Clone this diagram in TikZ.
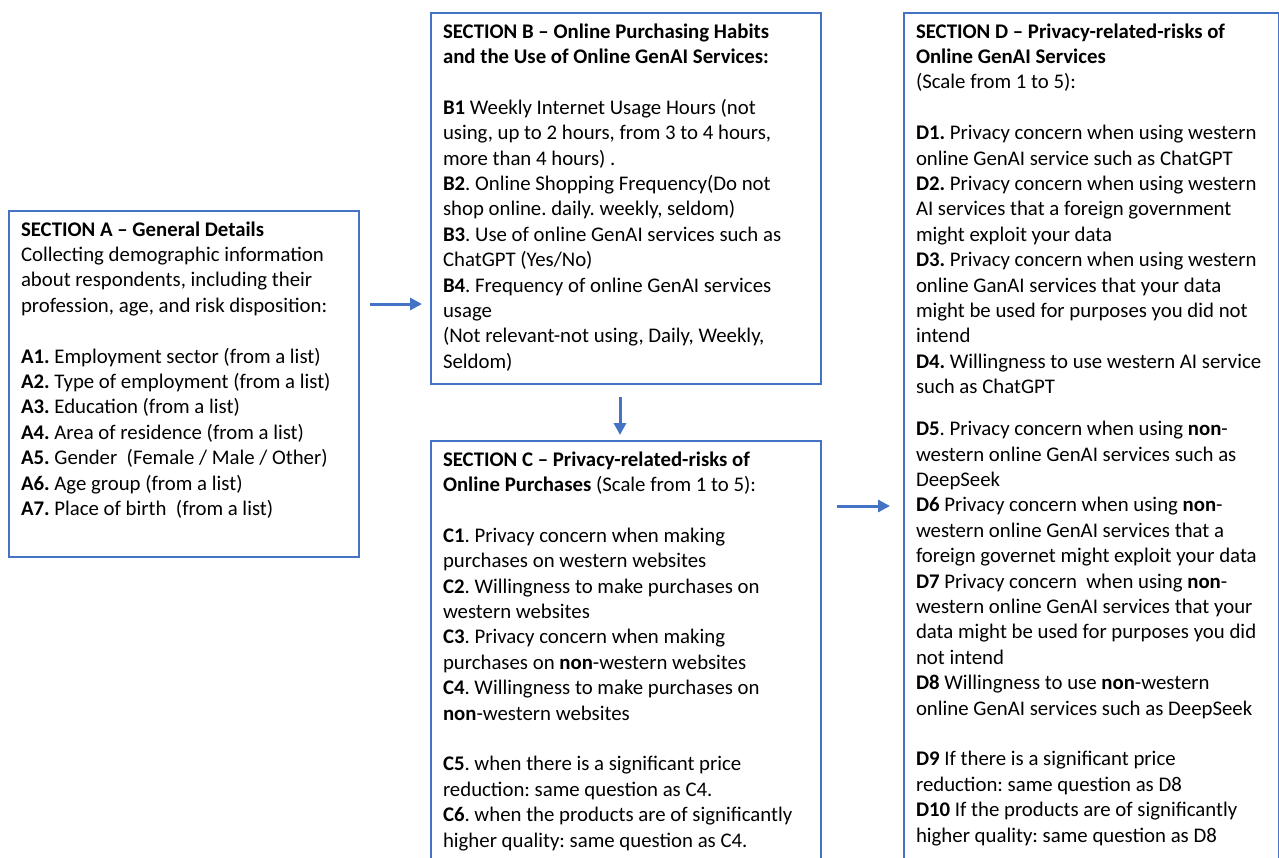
\documentclass[tikz,border=0pt]{standalone}
\usepackage{fontspec}
\setmainfont{Carlito}
\usetikzlibrary{arrows.meta}

\definecolor{boxblue}{HTML}{4472C4}
\frenchspacing

\begin{document}
\begin{tikzpicture}
		[
		x=0.5pt, y=-0.5pt, font=\fontsize{10.4pt}{12.7pt}\selectfont, >={Triangle[length=6pt,width=6pt]},
		%Rahmen der Abschnitte
		secbox/.style={draw=boxblue, line width=1pt, inner xsep=6pt, inner ysep=0pt, anchor=north west},
		%Pfeile
		arr/.style={->, boxblue, line width=1.5pt}
		]
		
		%Bildausschnitt
		\useasboundingbox (0,0) rectangle (1279,857);
		\clip (0,0) rectangle (1279,857);
		
		%Abschnitt A
		\node[secbox] (secA) at (8,210) {\parbox[c][173pt][t]{163pt}{\raggedright\rule{0pt}{12.5pt}%
			\textbf{SECTION A -- General Details}\\
			Collecting demographic information\\
			about respondents, including their\\
			profession, age, and risk disposition:\\[12.7pt]
			\textbf{A1.} Employment sector (from a list)\\
			\textbf{A2.} Type of employment (from a list)\\
			\textbf{A3.} Education (from a list)\\
			\textbf{A4.} Area of residence (from a list)\\
			\textbf{A5.} Gender~ (Female / Male / Other)\\
			\textbf{A6.} Age group (from a list)\\
			\textbf{A7.} Place of birth~ (from a list)}};
		
		%Abschnitt B
		\node[secbox] (secB) at (430,12) {\parbox[c][185.5pt][t]{183pt}{\raggedright\rule{0pt}{12.5pt}%
			\textbf{SECTION B -- Online Purchasing Habits}\\
			\textbf{and the Use of Online GenAI Services:}\\[12.7pt]
			\textbf{B1} Weekly Internet Usage Hours (not\\
			using, up to 2 hours, from 3 to 4 hours,\\
			more than 4 hours) .\\
			\textbf{B2}. Online Shopping Frequency(Do not\\
			shop online. daily. weekly, seldom)\\
			\textbf{B3}. Use of online GenAI services such as\\
			ChatGPT (Yes/No)\\
			\textbf{B4}. Frequency of online GenAI services\\
			usage\\
			(Not relevant-not using, Daily, Weekly,\\
			Seldom)}};
		
		%Abschnitt C
		\node[secbox] (secC) at (430,440) {\parbox[c][215pt][t]{183pt}{\raggedright\rule{0pt}{12.5pt}%
			\textbf{SECTION C -- Privacy-related-risks of}\\
			\textbf{Online Purchases} (Scale from 1 to 5):\\[12.7pt]
			\textbf{C1}. Privacy concern when making\\
			purchases on western websites\\
			\textbf{C2}. Willingness to make purchases on\\
			western websites\\
			\textbf{C3}. Privacy concern when making\\
			purchases on \textbf{non}-western websites\\
			\textbf{C4}. Willingness to make purchases on\\
			\textbf{non}-western websites\\[12.7pt]
			\textbf{C5}. when there is a significant price\\
			reduction: same question as C4.\\
			\textbf{C6}. when the products are of significantly\\
			higher quality: same question as C4.}};
		
		%Abschnitt D
		\node[secbox] (secD) at (903,12) {\parbox[c][440pt][t]{175.5pt}{\raggedright\rule{0pt}{12.5pt}%
			\textbf{SECTION D -- Privacy-related-risks of}\\
			\textbf{Online GenAI Services}\\
			(Scale from 1 to 5):\\[12.7pt]
			\textbf{D1.} Privacy concern when using western\\
			online GenAI service such as ChatGPT\\
			\textbf{D2.} Privacy concern when using western\\
			AI services that a foreign government\\
			might exploit your data\\
			\textbf{D3.} Privacy concern when using western\\
			online GanAI services that your data\\
			might be used for purposes you did not\\
			intend\\
			\textbf{D4.} Willingness to use western AI service\\
			such as ChatGPT\\[8.3pt]
			\textbf{D5}. Privacy concern when using \textbf{non}-\\
			western online GenAI services such as\\
			DeepSeek\\
			\textbf{D6} Privacy concern when using \textbf{non}-\\
			western online GenAI services that a\\
			foreign governet might exploit your data\\
			\textbf{D7} Privacy concern~ when using \textbf{non}-\\
			western online GenAI services that your\\
			data might be used for purposes you did\\
			not intend\\
			\textbf{D8} Willingness to use \textbf{non}-western\\
			online GenAI services such as DeepSeek\\[12.7pt]
			\textbf{D9} If there is a significant price\\
			reduction: same question as D8\\
			\textbf{D10} If the products are of significantly\\
			higher quality: same question as D8}};
		
		%Pfeil A nach B
		\draw[arr] ([shift={(10,-80)}]secA.east) coordinate (ab) -- ([xshift=-4pt]secB.west |- ab);
		%Pfeil B nach C
		\draw[arr] ([shift={(-6,12)}]secB.south) coordinate (bc) -- ([yshift=2.5pt]secC.north -| bc);
		%Pfeil C nach D
		\draw[arr] ([shift={(15,-150)}]secC.east) coordinate (cd) -- ([xshift=-6.5pt]secD.west |- cd);
	\end{tikzpicture}
\end{document}
